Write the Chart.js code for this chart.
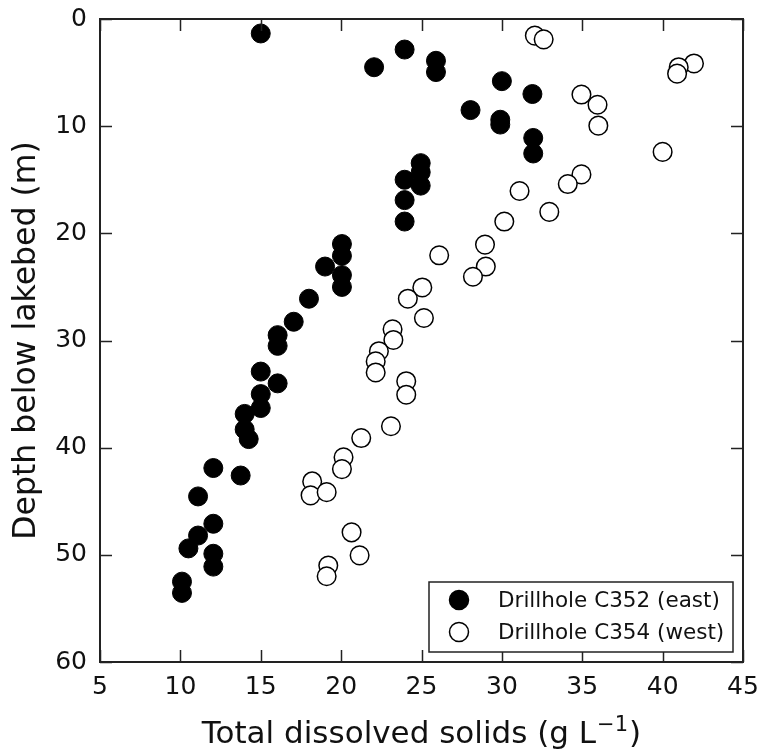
<!DOCTYPE html>
<html>
<head>
<meta charset="utf-8">
<script src="https://cdn.jsdelivr.net/npm/chart.js@4/dist/chart.umd.min.js"></script>
<style>
  html, body { margin: 0; padding: 0; background: #fff; }
  #wrap { width: 760px; height: 756px; }
</style>
</head>
<body>
<div id="wrap"><canvas id="chart"></canvas></div>
<script>
// Drillhole C352 (east): total dissolved solids (g/L) and depth (m)
const eastTDS = [15, 23.95, 22.05, 25.9, 25.9, 30.0, 31.9, 28.05, 29.9, 29.9,
  31.95, 31.95, 24.95, 24.95, 24.95, 23.95, 23.95, 23.95, 20.05, 20.05,
  19.0, 20.05, 20.05, 18.0, 17.05, 16.05, 16.05, 15.0, 16.05, 15.0,
  15.0, 14.0, 14.0, 14.25, 12.05, 13.75, 11.1, 12.05, 11.1, 10.5,
  12.05, 12.05, 10.1, 10.1];
const eastDepth = [1.35, 2.85, 4.5, 3.9, 4.95, 5.8, 7.0, 8.5, 9.4, 9.85,
  11.1, 12.55, 13.45, 14.3, 15.55, 15.0, 16.9, 18.9, 21.0, 22.1,
  23.1, 23.9, 25.0, 26.1, 28.25, 29.5, 30.5, 32.9, 34.0, 35.0,
  36.3, 36.85, 38.3, 39.2, 41.9, 42.6, 44.55, 47.1, 48.2, 49.4,
  49.9, 51.1, 52.5, 53.55];

// Drillhole C354 (west)
const westTDS = [32.05, 32.6, 41.95, 41.0, 40.9, 34.95, 35.95, 36.0, 40.0, 34.95,
  34.1, 31.1, 32.95, 30.15, 26.1, 28.95, 29.0, 28.2, 25.05, 24.15,
  25.15, 23.2, 23.25, 22.35, 22.15, 22.15, 24.05, 24.05, 23.1, 21.25,
  20.15, 20.05, 18.2, 18.1, 19.1, 20.65, 21.15, 19.2, 19.1];
const westDepth = [1.55, 1.9, 4.15, 4.5, 5.1, 7.05, 8.0, 9.95, 12.4, 14.5,
  15.4, 16.05, 18.0, 18.9, 22.05, 21.05, 23.1, 24.05, 25.05, 26.1,
  27.9, 28.95, 29.95, 31.0, 31.95, 32.98, 33.8, 35.06, 38.0, 39.1,
  40.9, 42.0, 43.15, 44.45, 44.15, 47.9, 50.05, 51.0, 52.0];

const seriesNames = ["Drillhole C352 (east)", "Drillhole C354 (west)"];
const xTicks = [5, 10, 15, 20, 25, 30, 35, 40, 45];
const yTicks = [0, 10, 20, 30, 40, 50, 60];
const xTitle = ["Total dissolved solids (g L", "\u22121", ")"]; // middle part is superscript

const FONT = "'DejaVu Sans', 'Liberation Sans', sans-serif";
const toPoints = (xs, ys) => xs.map((x, i) => ({ x: x, y: ys[i] }));

// frame with inward ticks on all four sides, boxed legend, x title with superscript
const framePlugin = {
  id: "frame",
  afterDraw(chart) {
    const { ctx, chartArea: a, scales } = chart;
    const len = 12;
    ctx.save();
    ctx.strokeStyle = "#222";
    ctx.lineWidth = 2;
    ctx.strokeRect(a.left, a.top, a.right - a.left, a.bottom - a.top);
    ctx.lineWidth = 1.5;
    ctx.beginPath();
    xTicks.forEach((v) => {
      const px = Math.round(scales.x.getPixelForValue(v)) + 0.5;
      ctx.moveTo(px, a.bottom); ctx.lineTo(px, a.bottom - len);
      ctx.moveTo(px, a.top); ctx.lineTo(px, a.top + len);
    });
    yTicks.forEach((v) => {
      const py = Math.round(scales.y.getPixelForValue(v)) + 0.5;
      ctx.moveTo(a.left, py); ctx.lineTo(a.left + len, py);
      ctx.moveTo(a.right, py); ctx.lineTo(a.right - len, py);
    });
    ctx.stroke();

    // legend box, lower right inside the plot
    const bx = a.right - 314, by = a.bottom - 80, bw = 304, bh = 70;
    ctx.fillStyle = "#fff";
    ctx.fillRect(bx, by, bw, bh);
    ctx.lineWidth = 1.5;
    ctx.strokeStyle = "#222";
    ctx.strokeRect(bx, by, bw, bh);
    ctx.font = "21.5px " + FONT;
    ctx.textBaseline = "middle";
    ctx.textAlign = "left";
    seriesNames.forEach((name, i) => {
      const cy = by + 18 + i * 32;
      ctx.beginPath();
      ctx.arc(bx + 30, cy, 9.5, 0, Math.PI * 2);
      ctx.fillStyle = i === 0 ? "#000" : "#fff";
      ctx.fill();
      ctx.strokeStyle = "#000";
      ctx.lineWidth = 1.5;
      ctx.stroke();
      ctx.fillStyle = "#111";
      ctx.fillText(name, bx + 69, cy + 1);
    });

    // x axis title, "L^-1" drawn with a real superscript
    const big = "31px " + FONT, small = "21px " + FONT;
    ctx.textBaseline = "alphabetic";
    ctx.fillStyle = "#111";
    ctx.font = big;
    const w1 = ctx.measureText(xTitle[0]).width;
    const w3 = ctx.measureText(xTitle[2]).width;
    ctx.font = small;
    const w2 = ctx.measureText(xTitle[1]).width;
    let tx = (a.left + a.right) / 2 - (w1 + w2 + w3 + 2) / 2;
    const base = a.bottom + 81;
    ctx.font = big;
    ctx.fillText(xTitle[0], tx, base);
    tx += w1 + 1;
    ctx.font = small;
    ctx.fillText(xTitle[1], tx, base - 12);
    tx += w2 + 1;
    ctx.font = big;
    ctx.fillText(xTitle[2], tx, base);
    ctx.restore();
  }
};

new Chart(document.getElementById("chart"), {
  type: "scatter",
  data: {
    datasets: [
      {
        label: seriesNames[0],
        data: toPoints(eastTDS, eastDepth),
        backgroundColor: "#000",
        borderColor: "#000",
        borderWidth: 1,
        pointRadius: 9.5,
        pointHoverRadius: 9.5
      },
      {
        label: seriesNames[1],
        data: toPoints(westTDS, westDepth),
        backgroundColor: "#fff",
        borderColor: "#000",
        borderWidth: 1.5,
        pointRadius: 9.3,
        pointHoverRadius: 9.3
      }
    ]
  },
  options: {
    responsive: true,
    maintainAspectRatio: false,
    animation: false,
    layout: { padding: { top: 19, right: 17, left: 0, bottom: 0 } },
    plugins: {
      legend: { display: false },
      tooltip: { enabled: false }
    },
    scales: {
      x: {
        type: "linear",
        min: 5,
        max: 45,
        afterFit: (s) => { s.height = 94; s.paddingLeft = 0; s.paddingRight = 0; },
        afterBuildTicks: (s) => { s.ticks = xTicks.map((v) => ({ value: v })); },
        grid: { display: false, drawTicks: false },
        border: { display: false },
        ticks: { color: "#111", padding: 10, font: { family: FONT, size: 25 } },
        title: { display: false }
      },
      y: {
        type: "linear",
        reverse: true,
        min: 0,
        max: 60,
        afterFit: (s) => { s.width = 100; s.paddingTop = 0; s.paddingBottom = 0; },
        afterBuildTicks: (s) => { s.ticks = yTicks.map((v) => ({ value: v })); },
        grid: { display: false, drawTicks: false },
        border: { display: false },
        ticks: { color: "#111", padding: 13, font: { family: FONT, size: 25 } },
        title: {
          display: true,
          text: "Depth below lakebed (m)",
          color: "#111",
          padding: { top: 8, bottom: 0 },
          font: { family: FONT, size: 31.5 }
        }
      }
    }
  },
  plugins: [framePlugin]
});
</script>
</body>
</html>
